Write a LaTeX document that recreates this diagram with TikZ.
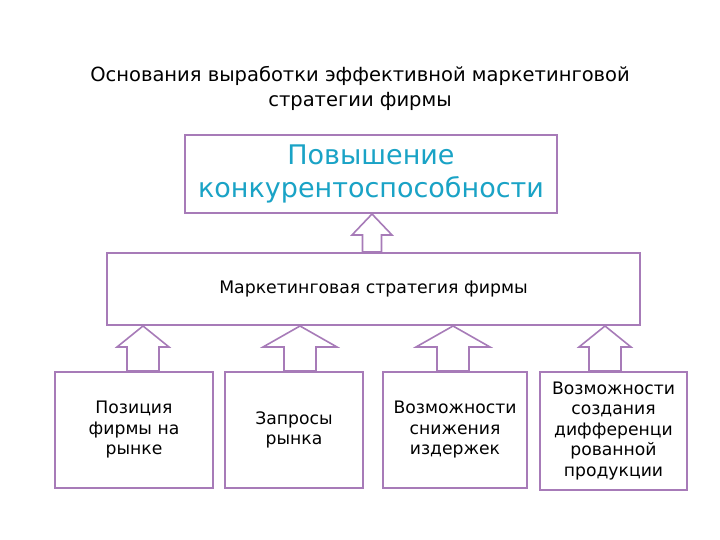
\documentclass[tikz,border=0pt]{standalone}
\usepackage{fontspec}
\setmainfont{DejaVu Sans}
\definecolor{pur}{HTML}{A77BB8}
\definecolor{cy}{HTML}{1AA3C6}
\begin{document}
\begin{tikzpicture}[x=1pt,y=-1pt,
  box/.style={draw=pur,line width=1.6pt,fill=white,inner sep=0pt,align=center},
  arr/.style={draw=pur,line width=1.6pt,fill=white,line join=miter}]
\useasboundingbox (0,0) rectangle (720,540);
\newcommand\uparr[5]{% x, tip y, base y, half head, half shaft
  \draw[arr] (#1,#2) -- (#1+#4,#2+21) -- (#1+#5,#2+21) -- (#1+#5,#3) -- (#1-#5,#3) -- (#1-#5,#2+21) -- (#1-#4,#2+21) -- cycle;}
\node[align=center,font=\fontsize{19.5}{25}\selectfont] (title) at (360,88) {Основания выработки эффективной маркетинговой\\стратегии фирмы};
\node[box,minimum width=372pt,minimum height=78pt,text=cy,font=\fontsize{27}{33}\selectfont] (top) at (371,174) {Повышение\\конкурентоспособности};
\node[box,minimum width=533pt,minimum height=72pt,font=\fontsize{17.3}{20}\selectfont] (mid) at (373.5,289) {Маркетинговая стратегия фирмы};
\uparr{372}{214}{252}{20}{9.5}
\uparr{143}{326}{371}{26}{16}
\uparr{300}{326}{371}{37}{16}
\uparr{453}{326}{371}{37}{16}
\uparr{605}{326}{371}{26}{16}
\begin{scope}[every node/.style={box,font=\fontsize{17.2}{20.5}\selectfont}]
\node[minimum width=158pt,minimum height=116pt] (b1) at (134,430) {Позиция\\фирмы на\\рынке};
\node[minimum width=138pt,minimum height=116pt] (b2) at (294,430) {Запросы\\рынка};
\node[minimum width=144pt,minimum height=116pt] (b3) at (455,430) {Возможности\\снижения\\издержек};
\node[minimum width=147pt,minimum height=118pt] (b4) at (613.5,431) {Возможности\\создания\\дифференци\\рованной\\продукции};
\end{scope}
\end{tikzpicture}
\end{document}
